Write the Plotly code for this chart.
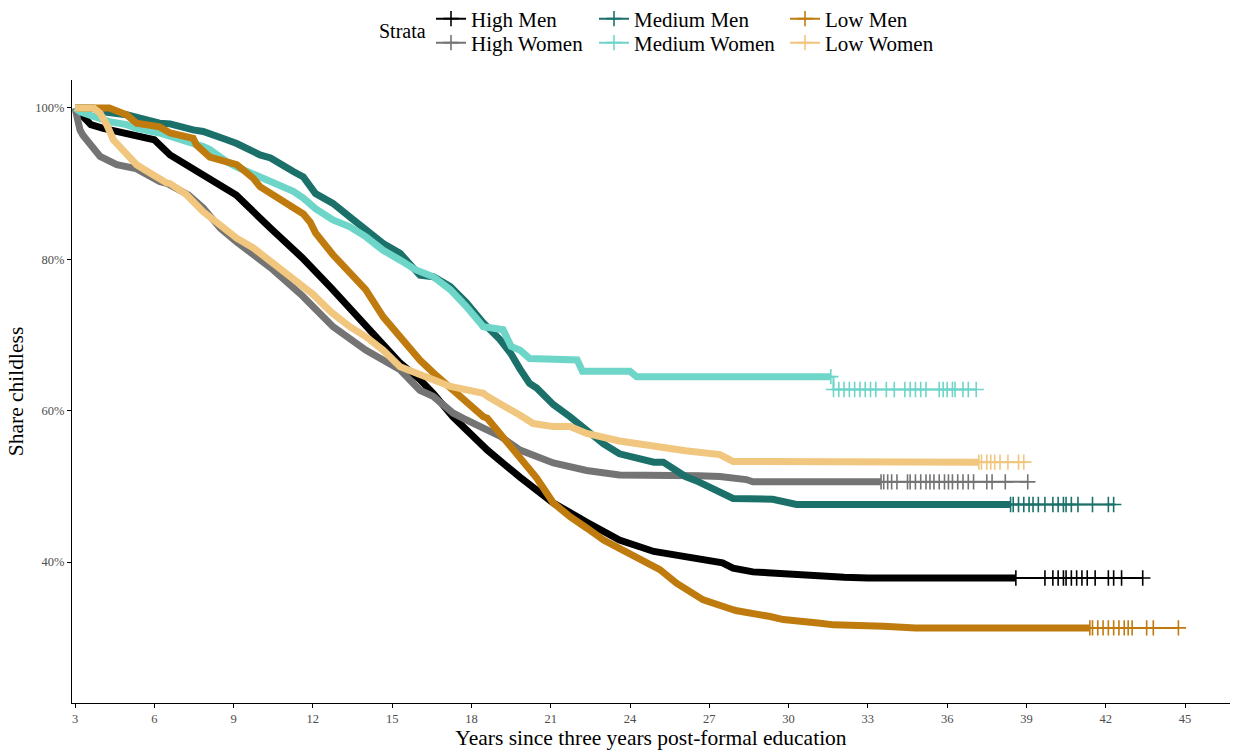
import plotly.graph_objects as go

# ---------------- data ----------------
strata_names = ["High Men", "High Women", "Medium Men", "Medium Women", "Low Men", "Low Women"]

# High Men
hm_t = [3.0, 3.3, 3.6, 4.07, 5.33, 6.0, 6.6, 7.2, 7.85, 9.1, 10.4, 11.6, 12.7, 14.0, 15.3, 16.05,
        16.55, 17.3, 18.4, 18.6, 19.84, 20.85, 21.1, 22.4, 23.6, 24.9, 26.1, 27.0, 27.5, 27.9, 28.65,
        29.2, 31.2, 32.1, 33.0, 38.6]
hm_s = [100, 99.0, 97.8, 97.3, 96.4, 95.8, 93.8, 92.5, 91.1, 88.5, 84.1, 80.2, 76.2, 71.1, 66.3, 64.1,
        62.3, 59.2, 55.3, 54.8, 51.2, 48.7, 47.8, 45.2, 42.9, 41.4, 40.6, 40.1, 39.9, 39.2, 38.7,
        38.6, 38.1, 38.0, 37.9, 37.9]
hm_cens = [39.7, 40.0, 40.2, 40.4, 40.5, 40.7, 40.9, 41.1, 41.3, 41.6, 42.1, 42.3, 42.6, 43.4]
hm_end = 37.9

# High Women
hw_t = [3.0, 3.08, 3.19, 3.3, 3.57, 3.95, 4.58, 5.3, 6.2, 6.5, 7.3, 7.85, 8.5, 9.12, 10.4, 11.6,
        12.76, 14.0, 15.3, 16.05, 16.55, 17.3, 17.8, 18.6, 19.1, 19.84, 21.1, 22.36, 23.6, 26.6,
        27.4, 28.4, 28.65, 31.2, 33.5]
hw_s = [100, 98.5, 97.1, 96.4, 95.1, 93.6, 92.5, 92.0, 90.3, 90.0, 88.5, 86.8, 84.1, 82.3, 78.9, 75.2,
        71.1, 68.0, 65.4, 62.7, 61.9, 59.7, 58.8, 57.5, 56.6, 54.8, 53.1, 52.1, 51.5, 51.4,
        51.3, 50.9, 50.6, 50.6, 50.6]
hw_cens = [33.6, 33.75, 33.9, 34.1, 34.5, 34.6, 34.8, 35.0, 35.2, 35.35, 35.5, 35.7, 35.9, 36.05,
           36.2, 36.4, 36.6, 36.8, 37.0, 37.5, 37.7, 38.2, 39.05]
hw_end = 50.6

# Medium Men
mm_t = [3.0, 3.7, 4.07, 4.95, 6.2, 6.6, 7.47, 7.85, 8.74, 9.12, 10.0, 10.4, 11.26, 11.64, 12.1,
        12.76, 13.4, 14.0, 14.66, 15.3, 16.05, 16.56, 17.2, 17.8, 18.45, 19.08, 19.5, 19.84, 20.2,
        20.47, 21.1, 21.73, 22.36, 23.0, 23.6, 24.9, 25.26, 25.76, 26.1, 26.6, 26.77, 27.3, 27.65,
        27.9, 29.4, 29.55, 30.3, 38.4]
mm_s = [100, 100, 99.5, 99.1, 98.0, 97.9, 97.1, 96.9, 95.8, 95.3, 93.8, 93.4, 91.6, 90.9, 88.7,
        87.4, 85.6, 83.9, 82.1, 80.8, 77.9, 77.7, 76.4, 74.3, 71.6, 69.4, 67.5, 65.5, 63.6,
        63.0, 60.8, 59.2, 57.5, 55.6, 54.3, 53.2, 53.2, 52.0, 51.3, 50.6, 50.3, 49.5, 48.9,
        48.4, 48.3, 48.2, 47.6, 47.6]
mm_cens = [38.5, 38.7, 38.9, 39.1, 39.25, 39.45, 39.7, 40.0, 40.2, 40.4, 40.5, 40.7, 40.95, 41.5,
           42.1, 42.3]
mm_end = 47.6

# Medium Women
mw_t = [3.0, 3.2, 3.7, 4.3, 4.95, 5.33, 6.2, 6.6, 7.47, 7.85, 8.1, 8.5, 8.74, 9.12, 10.0, 10.4,
        11.26, 11.64, 12.1, 12.76, 13.4, 14.0, 14.66, 15.3, 15.9, 16.56, 17.2, 17.8, 18.45, 19.2,
        19.5, 19.84, 20.2, 22.0, 22.2, 24.0, 24.25, 31.6]
mw_s = [100, 99.5, 98.9, 98.2, 97.8, 97.3, 96.7, 96.3, 95.3, 94.9, 94.5, 93.4, 92.9, 92.2, 90.9, 90.1,
        89.0, 88.1, 86.7, 85.2, 84.3, 83.0, 81.2, 79.9, 78.6, 77.7, 76.0, 73.8, 71.1, 70.7,
        68.5, 68.0, 66.9, 66.7, 65.2, 65.2, 64.5, 64.5]
mw_cens = [31.7, 31.9, 32.1, 32.3, 32.5, 32.7, 32.9, 33.1, 33.3, 33.7, 34.0, 34.4, 34.6, 34.8, 35.0,
           35.2, 35.7, 35.85, 36.0, 36.2, 36.3, 36.6, 36.8, 37.1]
mw_end = 62.8

# Low Men
lm_t = [3.0, 3.7, 4.3, 4.95, 5.33, 6.2, 6.6, 7.47, 7.6, 8.1, 8.74, 9.12, 9.37, 9.75, 10.0, 10.4,
        10.63, 11.26, 11.64, 11.9, 12.1, 12.76, 13.4, 14.0, 14.66, 15.3, 15.9, 16.05, 16.56, 17.2,
        17.8, 18.45, 18.6, 19.08, 19.2, 19.84, 20.47, 21.1, 21.73, 22.36, 23.0, 23.6, 24.5, 25.13,
        25.76, 26.6, 26.77, 27.9, 28.0, 29.3, 29.8, 31.2, 31.7, 33.6, 34.8, 41.4]
lm_s = [100, 100, 100, 99.1, 98.0, 97.5, 96.7, 96.0, 95.1, 93.5, 92.9, 92.5, 91.8, 90.7, 89.6, 88.7,
        88.3, 87.0, 86.0, 84.9, 83.5, 80.6, 78.2, 76.0, 72.4, 69.8, 67.6, 66.7, 65.0, 63.0,
        61.0, 59.2, 59.0, 57.0, 56.6, 53.9, 51.1, 47.8, 46.0, 44.5, 42.9, 41.8, 40.3, 39.0,
        37.2, 35.2, 35.0, 33.7, 33.6, 32.8, 32.4, 31.9, 31.7, 31.5, 31.3, 31.3]
lm_cens = [41.5, 41.7, 41.9, 42.1, 42.3, 42.5, 42.7, 42.85, 43.0, 43.55, 43.8, 44.75]
lm_end = 31.3

# Low Women
lw_t = [3.0, 3.7, 3.95, 4.07, 4.2, 4.45, 4.7, 4.95, 5.2, 5.33, 5.84, 5.96, 6.47, 6.6, 7.2, 7.85,
        8.5, 9.12, 9.75, 10.4, 11.64, 12.0, 12.7, 13.4, 14.0, 14.66, 15.3, 15.9, 16.05, 16.56,
        17.2, 17.8, 18.45, 18.6, 19.08, 19.2, 19.84, 20.34, 21.1, 21.73, 22.36, 23.6, 24.9, 26.1,
        27.4, 27.9, 37.2]
lw_s = [100, 100, 99.3, 98.6, 97.8, 95.8, 94.9, 93.8, 93.0, 92.5, 91.4, 91.1, 90.1, 90.0, 88.6, 86.3,
        84.5, 82.8, 81.5, 79.7, 76.2, 75.4, 73.0, 71.1, 69.8, 68.0, 65.8, 65.0, 65.0, 64.1,
        63.2, 62.7, 62.3, 61.9, 61.0, 60.8, 59.4, 58.3, 57.9, 57.9, 57.0, 56.0, 55.3, 54.7,
        54.2, 53.3, 53.2]
lw_cens = [37.3, 37.5, 37.65, 37.8, 38.0, 38.3, 38.7, 38.9]
lw_end = 53.2

x_ticks = [3, 6, 9, 12, 15, 18, 21, 24, 27, 30, 33, 36, 39, 42, 45]
y_ticks = [40, 60, 80, 100]
y_ticklabels = ["40%", "60%", "80%", "100%"]

# ---------------- styling ----------------
colors = ["#000000", "#747474", "#1b716a", "#6dd6c8", "#c07b0e", "#f1c67e"]
FONT = "Liberation Serif"
W, H = 1237, 751
ML, MR, MT, MB = 72, 7, 80, 48
PW, PH = W - ML - MR, H - MT - MB

series = [
    (hm_t, hm_s, hm_cens, hm_end),
    (hw_t, hw_s, hw_cens, hw_end),
    (mm_t, mm_s, mm_cens, mm_end),
    (mw_t, mw_s, mw_cens, mw_end),
    (lm_t, lm_s, lm_cens, lm_end),
    (lw_t, lw_s, lw_cens, lw_end),
]

# legend placement (container pixels): (legend-left x, row center y)
legend_pos = [(431, 19), (431, 43), (594, 19), (594, 43), (785, 19), (785, 43)]

fig = go.Figure()
for i, (t, s, cens, end) in enumerate(series):
    c = colors[i]
    lg = "legend" if i == 0 else f"legend{i+1}"
    # dense part of the curve: many overlapping censor marks form a thick band
    fig.add_trace(go.Scatter(
        x=t, y=[v / 100 for v in s], mode="lines",
        line=dict(color=c, width=7),
        showlegend=False, hoverinfo="skip", legend=lg,
    ))
    # sparse tail: thin line with individual censor marks
    tx = [t[-1]] + cens
    ty = [s[-1] / 100] + [end / 100] * len(cens)
    fig.add_trace(go.Scatter(
        x=tx, y=ty, mode="lines+markers", line_shape="hv",
        line=dict(color=c, width=2),
        marker=dict(symbol="cross-thin", size=11, line=dict(color=c, width=1.6)),
        name=strata_names[i], showlegend=True, legend=lg,
    ))

layout_legends = {}
for i, (px, py) in enumerate(legend_pos):
    key = "legend" if i == 0 else f"legend{i+1}"
    layout_legends[key] = dict(
        xref="container", yref="container",
        x=px / W, y=1 - py / H, xanchor="left", yanchor="middle",
        orientation="h", bgcolor="rgba(0,0,0,0)", borderwidth=0,
        font=dict(family=FONT, size=21, color="#000000"),
        itemwidth=30, tracegroupgap=0,
    )

fig.update_layout(
    width=W, height=H,
    margin=dict(l=ML, r=MR, t=MT, b=MB),
    plot_bgcolor="white", paper_bgcolor="white",
    font=dict(family=FONT, color="#000000"),
    **layout_legends,
    annotations=[dict(
        text="Strata", xref="paper", yref="paper",
        x=(377 - ML) / PW, y=(H - MB - 31) / PH, xanchor="left", yanchor="middle",
        showarrow=False, font=dict(family=FONT, size=20, color="#000000"),
    )],
)

fig.update_xaxes(
    range=[3 - 3 / 26.43, 45 + 45 / 26.43],
    tickvals=x_ticks, ticktext=[str(v) for v in x_ticks],
    showline=True, linecolor="#000000", linewidth=1.3, mirror=False,
    ticks="outside", ticklen=4, tickcolor="#000000", tickwidth=1.1,
    tickfont=dict(family=FONT, size=12.5, color="#4d4d4d"),
    showgrid=False, zeroline=False,
    title=dict(text="Years since three years post-formal education",
               font=dict(family=FONT, size=21.5, color="#000000"), standoff=2),
)
fig.update_yaxes(
    range=[0.4 - 141 / 757, 1 + 28 / 757],
    tickvals=[v / 100 for v in y_ticks], ticktext=y_ticklabels,
    showline=True, linecolor="#000000", linewidth=1.3, mirror=False,
    ticks="outside", ticklen=4, tickcolor="#000000", tickwidth=1.1,
    tickfont=dict(family=FONT, size=12.5, color="#4d4d4d"),
    showgrid=False, zeroline=False,
    title=dict(text="Share childless",
               font=dict(family=FONT, size=21.5, color="#000000"), standoff=5),
)

fig.write_html("out.html", config={"displayModeBar": False},
               post_script="document.body.style.margin='0px';")
